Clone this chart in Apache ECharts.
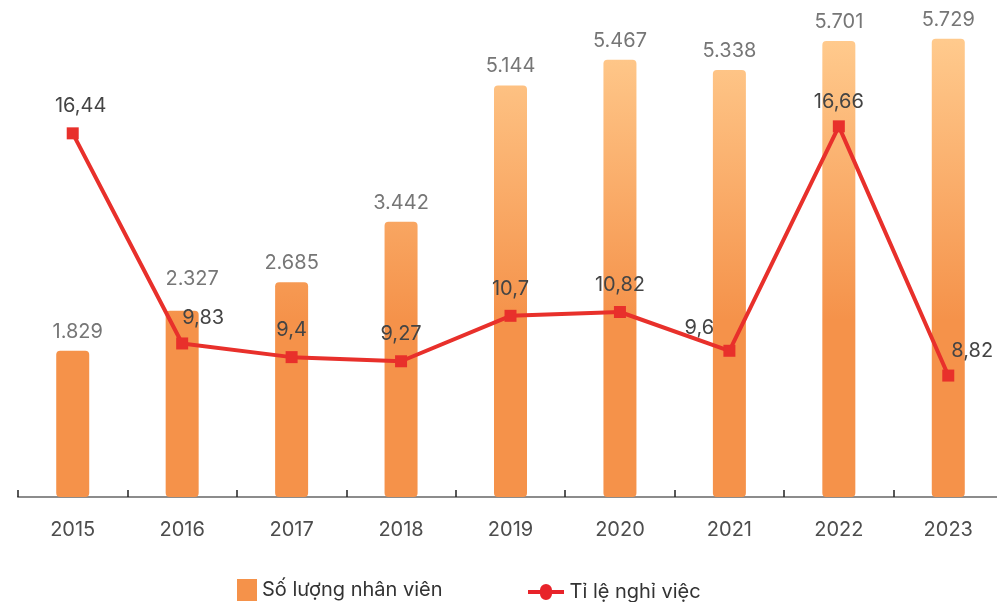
<!DOCTYPE html>
<html>
<head>
<meta charset="utf-8">
<script src="https://cdn.jsdelivr.net/npm/echarts@6/dist/echarts.min.js"></script>
<style>
  html, body { margin: 0; padding: 0; background: #fff; }
  #chart { width: 997px; height: 602px; }
</style>
</head>
<body>
<div id="chart"></div>
<script>
// data
var years = ['2015', '2016', '2017', '2018', '2019', '2020', '2021', '2022', '2023'];
var soLuong = [1829, 2327, 2685, 3442, 5144, 5467, 5338, 5701, 5729];
var tiLe = [16.44, 9.83, 9.4, 9.27, 10.7, 10.82, 9.6, 16.66, 8.82];

// a few line labels are nudged so they do not sit on the line
var lineLabelOffset = { 0: [8, 0], 1: [21, 2], 6: [-30, 4], 7: [0, 3], 8: [24, 2] };
var barLabelOffset = { 0: [5, 0], 1: [10, -13] };

function fmtInt(v) {
  return String(v).replace(/\B(?=(\d{3})+(?!\d))/g, '.');
}
function fmtDec(v) {
  return String(v).replace('.', ',');
}

var chart = echarts.init(document.getElementById('chart'));

var barData = soLuong.map(function (v, i) {
  var item = { value: v };
  if (barLabelOffset[i]) item.label = { offset: barLabelOffset[i] };
  return item;
});
var lineData = tiLe.map(function (v, i) {
  var item = { value: v };
  if (lineLabelOffset[i]) item.label = { offset: lineLabelOffset[i] };
  return item;
});

var option = {
  animation: false,
  textStyle: { fontFamily: 'Inter' },
  grid: { left: 18, top: 17, width: 985, height: 480, containLabel: false, outerBoundsMode: 'none' },
  legend: [
    {
      left: 237, top: 579, padding: 0,
      icon: 'rect', itemWidth: 20, itemHeight: 22, itemGap: 10,
      itemStyle: { color: '#F5924A' },
      textStyle: { fontFamily: 'Inter', fontSize: 20, color: '#333' },
      data: ['Số lượng nhân viên']
    },
    {
      left: 528, top: 582, padding: 0,
      icon: 'path://M0,8h12a6,6 0 1,1 12,0h12v4h-12a6,6 0 1,1 -12,0h-12z',
      itemWidth: 37, itemHeight: 16, itemGap: 4,
      itemStyle: { color: '#E8232A' },
      textStyle: { fontFamily: 'Inter', fontSize: 20, color: '#333' },
      data: ['Tỉ lệ nghỉ việc']
    }
  ],
  xAxis: {
    type: 'category',
    data: years,
    axisLine: { lineStyle: { color: '#8c8c8c', width: 2 } },
    axisTick: { show: true, inside: true, length: 7, lineStyle: { color: '#222', width: 1.5 } },
    axisLabel: { fontFamily: 'Inter', fontSize: 20, color: '#4d4d4d', margin: 23 }
  },
  yAxis: [
    { type: 'value', min: 0, max: 6000, show: false },
    { type: 'value', min: 5, max: 20.1, show: false }
  ],
  series: [
    {
      name: 'Số lượng nhân viên',
      type: 'bar',
      yAxisIndex: 0,
      barWidth: 33,
      data: barData,
      itemStyle: {
        borderRadius: 4,
        color: new echarts.graphic.LinearGradient(0, 40, 0, 320, [
          { offset: 0, color: '#FFCA8D' },
          { offset: 1, color: '#F5924A' }
        ], true)
      },
      label: {
        show: true,
        position: 'top',
        distance: 9,
        fontFamily: 'Inter',
        fontSize: 20,
        color: '#767676',
        formatter: function (p) { return fmtInt(p.value); }
      }
    },
    {
      name: 'Tỉ lệ nghỉ việc',
      type: 'line',
      yAxisIndex: 1,
      data: lineData,
      symbol: 'rect',
      symbolSize: 12,
      color: '#E8272B',
      lineStyle: { width: 4, color: '#E8302B' },
      itemStyle: { color: '#E8302B' },
      label: {
        show: true,
        position: 'top',
        distance: 11,
        fontFamily: 'Inter',
        fontSize: 20,
        color: '#444',
        formatter: function (p) { return fmtDec(p.value); }
      },
      z: 3
    }
  ]
};

chart.setOption(option);
</script>
</body>
</html>
